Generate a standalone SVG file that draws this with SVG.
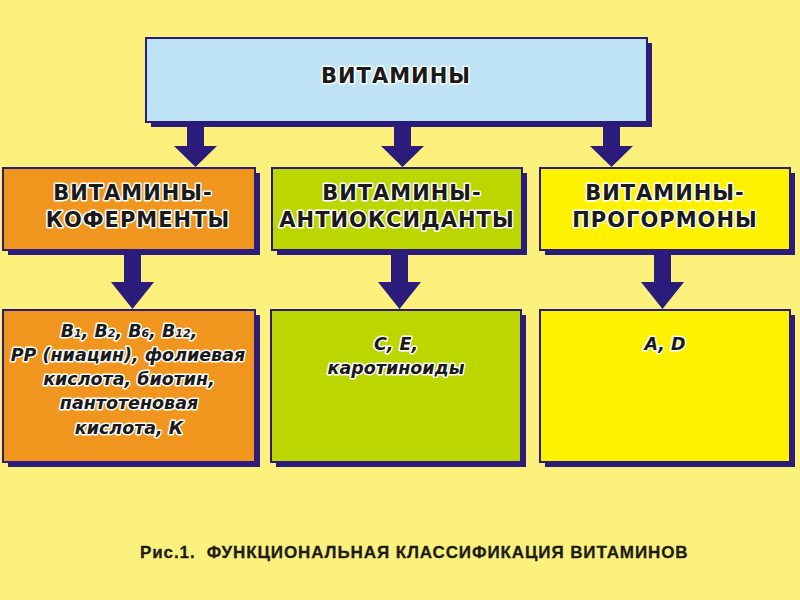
<svg xmlns="http://www.w3.org/2000/svg" width="800" height="600" viewBox="0 0 800 600">
<defs>
<style>
.shadow{fill:#2b1b7b}
.box{stroke:#2b1b7b;stroke-width:2}
.head{font-family:"DejaVu Sans","Liberation Sans",Arial,sans-serif;font-weight:bold;font-size:21px;fill:#1a1a1a;text-anchor:middle;letter-spacing:1px;stroke:#ffffff;stroke-width:3;paint-order:stroke;stroke-linejoin:round}
.item{font-family:"DejaVu Sans","Liberation Sans",Arial,sans-serif;font-weight:bold;font-style:italic;font-size:17.5px;fill:#1a1a1a;text-anchor:middle;stroke:#ffffff;stroke-width:3;paint-order:stroke;stroke-linejoin:round}
.cap{font-family:"Liberation Sans",Arial,sans-serif;font-weight:bold;font-size:17px;letter-spacing:0.9px;fill:#1c1c1c;stroke:#1c1c1c;stroke-width:0.3}
.arrow{fill:#2b1b7b}
</style>
</defs>
<rect width="800" height="600" fill="#fcf17c"/>

<g id="connectors">
<path class="arrow" d="M187,122 h17 v24 h13 l-21.5,21 l-21.5,-21 h13 z"/>
<path class="arrow" d="M394,122 h17 v24 h13 l-21.5,21 l-21.5,-21 h13 z"/>
<path class="arrow" d="M603,122 h17 v24 h13 l-21.5,21 l-21.5,-21 h13 z"/>
<path class="arrow" d="M124,250 h17 v32 h13 l-21.5,27 l-21.5,-27 h13 z"/>
<path class="arrow" d="M391,250 h17 v32 h13 l-21.5,27 l-21.5,-27 h13 z"/>
<path class="arrow" d="M654,250 h17 v32 h13 l-21.5,27 l-21.5,-27 h13 z"/>
</g>

<g id="vitamins">
<rect class="shadow" x="151" y="43" width="501" height="84"/>
<rect class="box" x="146" y="38" width="501" height="84" fill="#bde3f5"/>
<text class="head" x="396" y="83">ВИТАМИНЫ</text>
</g>

<g id="coenzymes">
<rect class="shadow" x="8" y="173" width="252" height="82"/>
<rect class="box" x="3" y="168" width="252" height="82" fill="#f0961e"/>
<text class="head" x="133" y="200">ВИТАМИНЫ-</text>
<text class="head" x="138" y="227">КОФЕРМЕНТЫ</text>
</g>

<g id="antioxidants">
<rect class="shadow" x="277" y="173" width="250" height="82"/>
<rect class="box" x="272" y="168" width="250" height="82" fill="#bcd600"/>
<text class="head" x="402" y="200">ВИТАМИНЫ-</text>
<text class="head" x="397" y="227">АНТИОКСИДАНТЫ</text>
</g>

<g id="prohormones">
<rect class="shadow" x="545" y="173" width="250" height="82"/>
<rect class="box" x="540" y="168" width="250" height="82" fill="#fff200"/>
<text class="head" x="665" y="200">ВИТАМИНЫ-</text>
<text class="head" x="665" y="227">ПРОГОРМОНЫ</text>
</g>

<g id="coenzymes-list">
<rect class="shadow" x="8" y="315" width="252" height="152"/>
<rect class="box" x="3" y="310" width="252" height="152" fill="#f0961e"/>
<text class="item" x="129" y="337">B<tspan font-size="11px">1</tspan>, B<tspan font-size="11px">2</tspan>, B<tspan font-size="11px">6</tspan>, B<tspan font-size="11px">12</tspan>,</text>
<text class="item" x="128" y="361">PP (ниацин), фолиевая</text>
<text class="item" x="129" y="385">кислота, биотин,</text>
<text class="item" x="129" y="409">пантотеновая</text>
<text class="item" x="129" y="434">кислота, К</text>
</g>

<g id="antioxidants-list">
<rect class="shadow" x="276" y="315" width="250" height="152"/>
<rect class="box" x="271" y="310" width="250" height="152" fill="#bcd600"/>
<text class="item" x="396" y="350">C, E,</text>
<text class="item" x="396" y="374">каротиноиды</text>
</g>

<g id="prohormones-list">
<rect class="shadow" x="545" y="315" width="250" height="152"/>
<rect class="box" x="540" y="310" width="250" height="152" fill="#fff200"/>
<text class="item" x="665" y="350">A, D</text>
</g>

<text class="cap" x="140" y="558">Рис.1.&#160; ФУНКЦИОНАЛЬНАЯ КЛАССИФИКАЦИЯ ВИТАМИНОВ</text>
</svg>
